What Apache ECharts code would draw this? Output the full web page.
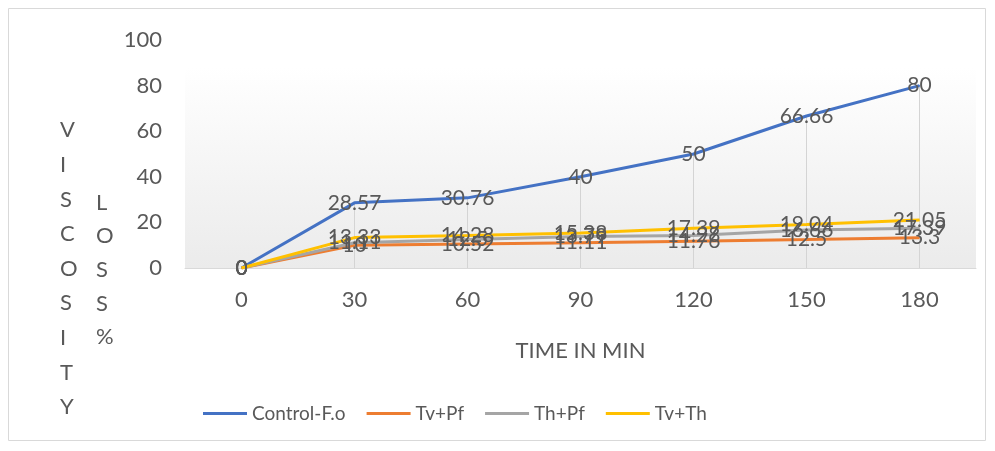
<!DOCTYPE html>
<html>
<head>
<meta charset="utf-8">
<script src="https://cdn.jsdelivr.net/npm/echarts@6/dist/echarts.min.js"></script>
<style>
  html, body { margin: 0; padding: 0; background: #fff; }
  #chart { width: 995px; height: 451px; }
</style>
</head>
<body>
<div id="chart"></div>
<script>
    // time points (min)
    var times = ['0', '30', '60', '90', '120', '150', '180'];
    var seriesNames = ['Control-F.o', 'Tv+Pf', 'Th+Pf', 'Tv+Th'];
    var controlFo = [0, 28.57, 30.76, 40, 50, 66.66, 80];
    var tvPf = [0, 10, 10.52, 11.11, 11.76, 12.5, 13.3];
    var thPf = [0, 11.11, 12.5, 13.79, 14.28, 16.66, 17.39];
    var tvTh = [0, 13.33, 14.28, 15.38, 17.39, 19.04, 21.05];
    var colors = ['#4472C4', '#ED7D31', '#A5A5A5', '#FFC000'];

    var myChart = echarts.init(document.getElementById('chart'));
    var font = 'Lato, "Open Sans", sans-serif';

    function makeSeries(name, data, color) {
        return {
            name: name,
            type: 'line',
            data: data,
            symbol: 'circle',
            symbolSize: 1,
            itemStyle: { color: color },
            lineStyle: { color: color, width: 3 },
            label: {
                show: true,
                position: 'inside',
                color: '#595959',
                fontSize: 21,
                fontFamily: font
            },
            z: 3
        };
    }

    // drop lines from the control series down to the axis
    var dropLines = [];
    for (var i = 1; i < times.length; i++) {
        dropLines.push([{ coord: [i, controlFo[i]] }, { coord: [i, 0] }]);
    }

    var series = [
        makeSeries(seriesNames[0], controlFo, colors[0]),
        makeSeries(seriesNames[1], tvPf, colors[1]),
        makeSeries(seriesNames[2], thPf, colors[2]),
        makeSeries(seriesNames[3], tvTh, colors[3])
    ];
    series[0].markLine = {
        silent: true,
        symbol: 'none',
        label: { show: false },
        lineStyle: { color: '#d4d4d4', width: 1, type: 'solid' },
        data: dropLines,
        z: 1
    };

    var option = {
        animation: false,
        color: colors,
        grid: {
            left: 185, right: 19, top: 40, bottom: 183,
            show: true,
            borderWidth: 0,
            backgroundColor: {
                type: 'linear', x: 0, y: 0, x2: 0, y2: 1,
                colorStops: [
                    { offset: 0, color: '#ffffff' },
                    { offset: 0.12, color: '#ffffff' },
                    { offset: 1, color: '#ebebeb' }
                ]
            }
        },
        legend: {
            left: 198,
            top: 399,
            icon: 'rect',
            itemWidth: 44,
            itemHeight: 3,
            itemGap: 21,
            textStyle: { color: '#595959', fontSize: 19, fontFamily: font },
            data: seriesNames
        },
        xAxis: {
            type: 'category',
            data: times,
            name: 'TIME IN MIN',
            nameLocation: 'middle',
            nameGap: 72,
            nameTextStyle: { color: '#595959', fontSize: 22, fontFamily: font },
            axisLine: { lineStyle: { color: '#d9d9d9', width: 1 } },
            axisTick: { show: false },
            axisLabel: { color: '#595959', fontSize: 22, fontFamily: font, margin: 21 },
            splitLine: { show: false }
        },
        yAxis: {
            type: 'value',
            min: 0,
            max: 100,
            interval: 20,
            axisLine: { show: false },
            axisTick: { show: false },
            splitLine: { show: false },
            axisLabel: { color: '#595959', fontSize: 22, fontFamily: font, margin: 23 }
        },
        graphic: [
            {
                type: 'rect',
                shape: { x: 8.5, y: 8.5, width: 977, height: 432 },
                style: { fill: 'none', stroke: '#d9d9d9', lineWidth: 1 },
                silent: true
            },
            {
                type: 'text',
                left: 60, top: 113,
                style: {
                    text: 'V\nI\nS\nC\nO\nS\nI\nT\nY',
                    fill: '#595959', font: '22px ' + font,
                    lineHeight: 34.6, align: 'center'
                }
            },
            {
                type: 'text',
                left: 96, top: 186,
                style: {
                    text: 'L\nO\nS\nS\n%',
                    fill: '#595959', font: '22px ' + font,
                    lineHeight: 33.6, align: 'center'
                }
            }
        ],
        series: series
    };

    myChart.setOption(option);
</script>
</body>
</html>
